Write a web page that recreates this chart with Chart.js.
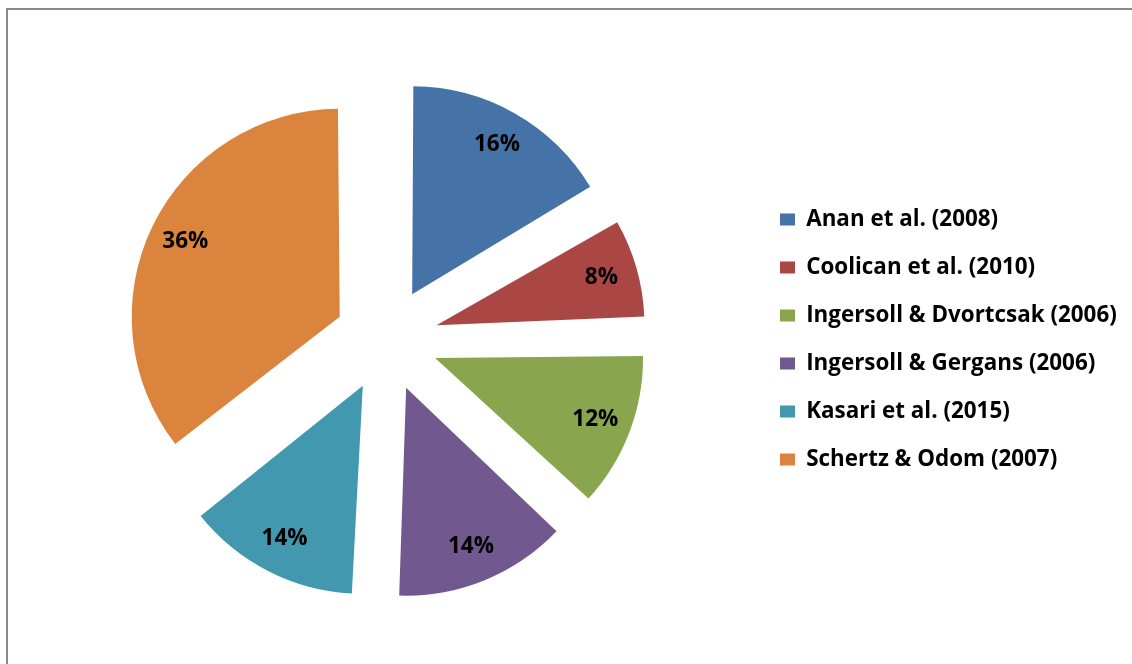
<!DOCTYPE html>
<html><head><meta charset="utf-8">
<script src="https://cdn.jsdelivr.net/npm/chart.js@4.4.0/dist/chart.umd.min.js"></script>
<style>html,body{margin:0;padding:0;background:#fff;overflow:hidden}#wrap{width:1132px;height:664px;position:relative}</style>
</head><body><div id="wrap"><canvas id="c" width="1132" height="664"></canvas></div>
<script>
const categories = ['Anan et al. (2008)', 'Coolican et al. (2010)', 'Ingersoll & Dvortcsak (2006)', 'Ingersoll & Gergans (2006)', 'Kasari et al. (2015)', 'Schertz & Odom (2007)'];
const counts = [12, 6, 9, 10, 10, 26];
const sliceColors = ['#4572A7', '#AA4643', '#89A54E', '#71588F', '#4198AF', '#DB843D'];

const FONT = '"Open Sans"';
const explodePx = 52;
const radiusPx = 208;
const labelFrac = 0.825;
const centerX = 386.5;
const legendBoxX = 780;
const rowStep = 48;

const total = counts.reduce((a, b) => a + b, 0);
const pctText = counts.map(v => Math.round(v / total * 100) + '%');

// size fonts to the reference text widths
const mctx = document.createElement('canvas').getContext('2d');
function widthAt(txt, size) { mctx.font = 'bold ' + size + 'px ' + FONT; return mctx.measureText(txt).width; }
const longest = categories.reduce((a, b) => (widthAt(b, 20) > widthAt(a, 20) ? b : a));
const legendFont = Math.round(20 * 311 / widthAt(longest, 20) * 10) / 10;
const labelFont = Math.round(20 * 46 / widthAt('16%', 20) * 10) / 10;
const legendPad = rowStep - legendFont;
const maxW = widthAt(longest, legendFont);
const legendLeft = legendBoxX - legendPad;
const legendWidth = legendPad + 15 + legendFont / 2 + maxW + 10;
const padRight = Math.max(0, 1132 - legendLeft - legendWidth);
const padLeft = 2 * centerX - legendLeft;

const fixRadii = {
  id: 'fixRadii',
  beforeDatasetsDraw(chart) {
    chart.getDatasetMeta(0).data.forEach(arc => {
      const c = arc.endAngle - arc.startAngle;
      const fix = 1 - Math.sin(Math.min(Math.PI, c));
      arc.outerRadius = radiusPx - explodePx * fix;
    });
  }
};
const pctLabels = {
  id: 'pctLabels',
  afterDatasetsDraw(chart) {
    const ctx = chart.ctx;
    ctx.save();
    ctx.font = 'bold ' + labelFont + 'px ' + FONT;
    ctx.fillStyle = '#000';
    ctx.textAlign = 'center';
    ctx.textBaseline = 'middle';
    chart.getDatasetMeta(0).data.forEach((arc, i) => {
      const mid = (arc.startAngle + arc.endAngle) / 2;
      const r = explodePx + labelFrac * radiusPx;
      ctx.fillText(pctText[i], arc.x + Math.cos(mid) * r, arc.y + Math.sin(mid) * r);
    });
    ctx.restore();
  }
};
const frame = {
  id: 'frame',
  afterDraw(chart) {
    const ctx = chart.ctx;
    ctx.save();
    ctx.strokeStyle = '#888888';
    ctx.lineWidth = 2;
    ctx.strokeRect(7, 9, 1200, 800);
    ctx.restore();
  }
};

new Chart(document.getElementById('c'), {
  type: 'pie',
  data: {
    labels: categories,
    datasets: [{
      data: counts,
      backgroundColor: sliceColors,
      borderWidth: 0,
      offset: explodePx * 4,
      hoverOffset: 0
    }]
  },
  options: {
    responsive: false,
    animation: false,
    radius: radiusPx,
    layout: { padding: { left: padLeft, top: 15, bottom: 0, right: padRight } },
    plugins: {
      legend: {
        position: 'right',
        labels: {
          boxWidth: 15, boxHeight: 12, padding: legendPad,
          color: '#000',
          font: { family: FONT, size: legendFont, weight: 'bold' }
        }
      },
      tooltip: { enabled: false }
    }
  },
  plugins: [fixRadii, pctLabels, frame]
});
</script>
</body></html>
